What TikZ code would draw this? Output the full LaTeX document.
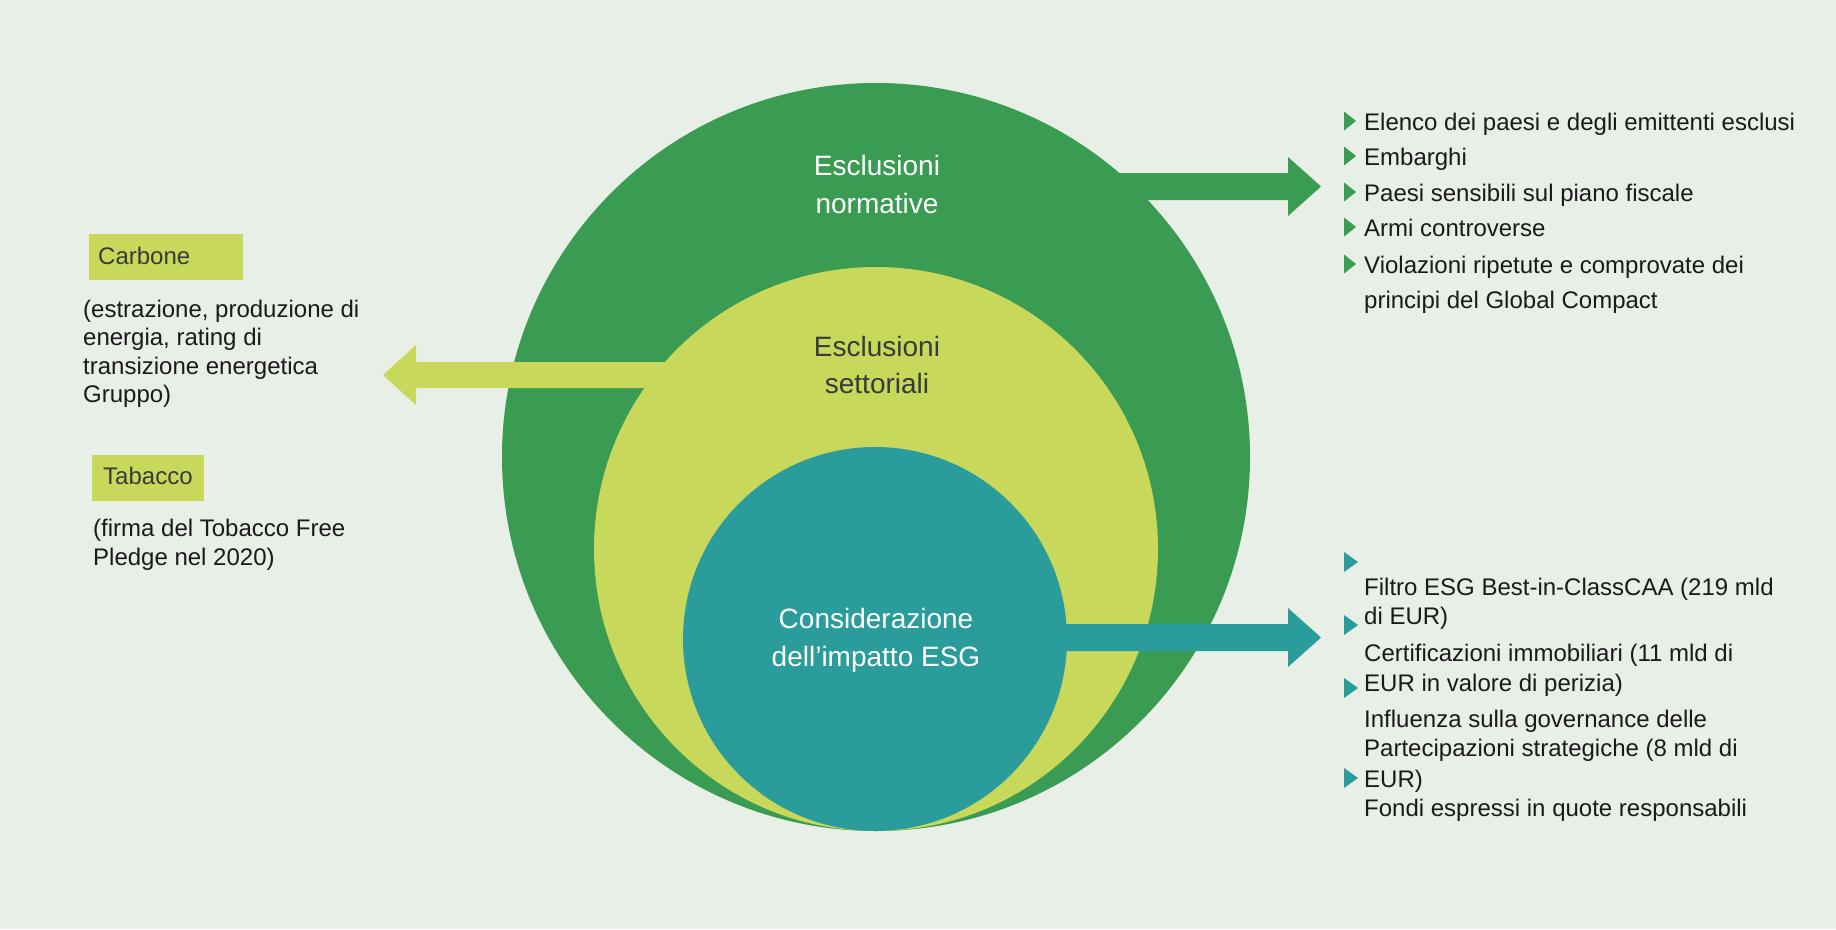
\documentclass[tikz,border=0pt]{standalone}
\usepackage{fontspec}
\setmainfont{Liberation Sans}
\definecolor{bg}{RGB}{232,239,230}
\definecolor{dgreen}{RGB}{58,155,82}
\definecolor{lgreen}{RGB}{200,216,90}
\definecolor{tealc}{RGB}{42,156,155}
\definecolor{txt}{RGB}{26,26,26}
\definecolor{lbl}{RGB}{58,58,58}
\newcommand{\bulg}[2]{\fill[dgreen] (#1,#2-9.5) -- ++(12,9.5) -- ++(-12,9.5) -- cycle;}
\newcommand{\bult}[2]{\fill[tealc] (#1,#2-10) -- ++(14,10) -- ++(-14,10) -- cycle;}
\begin{document}
\begin{tikzpicture}[x=1pt,y=-1pt,
  side/.style={anchor=base west, inner sep=0pt, text=txt, font=\fontsize{24}{29}\selectfont},
  tag/.style={anchor=base west, inner sep=0pt, text=lbl, font=\fontsize{24}{29}\selectfont},
  ctr/.style={anchor=base, inner sep=0pt, font=\fontsize{28}{34}\selectfont}]
\fill[bg] (0,0) rectangle (1836,929);
\useasboundingbox (0,0) rectangle (1836,929);
% outer circle and its arrow
\fill[dgreen] (876,457) circle [radius=374pt];
\fill[dgreen] (1050,173) -- (1288,173) -- (1288,157) -- (1321,186.5) -- (1288,216) -- (1288,200) -- (1050,200) -- cycle;
% middle circle and its arrow
\fill[lgreen] (876,549) circle [radius=282pt];
\fill[lgreen] (700,362) -- (416,362) -- (416,345) -- (383,375) -- (416,405) -- (416,388) -- (700,388) -- cycle;
% inner circle and its arrow
\fill[tealc] (875,639) circle [radius=192pt];
\fill[tealc] (1000,624) -- (1288,624) -- (1288,608) -- (1321,637.5) -- (1288,667) -- (1288,651) -- (1000,651) -- cycle;
% circle labels
\node[ctr, text=white] (n1) at (877,175) {Esclusioni};
\node[ctr, text=white] (n2) at (877,213) {normative};
\node[ctr, text=lbl] (s1) at (877,356) {Esclusioni};
\node[ctr, text=lbl] (s2) at (877,393) {settoriali};
\node[ctr, text=white] (c1) at (876,628) {Considerazione};
\node[ctr, text=white] (c2) at (876,666) {dell’impatto ESG};
% left side
\fill[lgreen] (89,234) rectangle (243,280);
\node[tag] (carbone) at (98,264) {Carbone};
\node[side] (cd1) at (83,317) {(estrazione, produzione di};
\node[side] (cd2) at (83,345) {energia, rating di};
\node[side] (cd3) at (83,374) {transizione energetica};
\node[side] (cd4) at (83,402) {Gruppo)};
\fill[lgreen] (92,455) rectangle (204,501);
\node[tag] (tabacco) at (103,484) {Tabacco};
\node[side] (td1) at (93,536) {(firma del Tobacco Free};
\node[side] (td2) at (93,565) {Pledge nel 2020)};
% right top list
\bulg{1344}{121}
\node[side] (r1) at (1364,130) {Elenco dei paesi e degli emittenti esclusi};
\bulg{1344}{156}
\node[side] (r2) at (1364,165) {Embarghi};
\bulg{1344}{192}
\node[side] (r3) at (1364,201) {Paesi sensibili sul piano fiscale};
\bulg{1344}{227}
\node[side] (r4) at (1364,236) {Armi controverse};
\bulg{1344}{264}
\node[side] (r5) at (1364,273) {Violazioni ripetute e comprovate dei};
\node[side] (r6) at (1364,308) {principi del Global Compact};
% right bottom list
\bult{1344}{562}
\node[side] (e1) at (1364,595) {Filtro ESG Best-in-ClassCAA (219 mld};
\bult{1344}{625}
\node[side] (e2) at (1364,624) {di EUR)};
\node[side] (e3) at (1364,661) {Certificazioni immobiliari (11 mld di};
\bult{1344}{688}
\node[side] (e4) at (1364,691) {EUR in valore di perizia)};
\node[side] (e5) at (1364,727) {Influenza sulla governance delle};
\node[side] (e6) at (1364,756) {Partecipazioni strategiche (8 mld di};
\bult{1344}{778}
\node[side] (e7) at (1364,787) {EUR)};
\node[side] (e8) at (1364,816) {Fondi espressi in quote responsabili};
\end{tikzpicture}
\end{document}
